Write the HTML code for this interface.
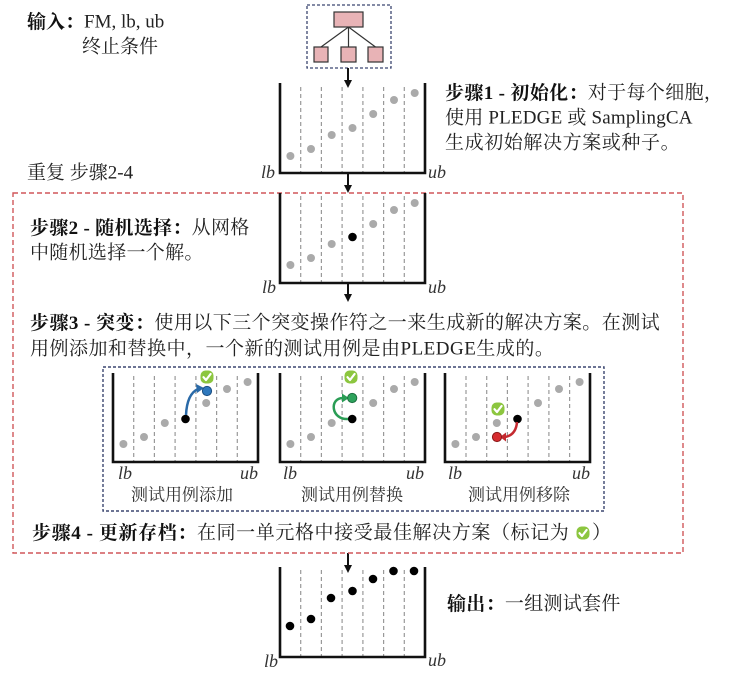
<!DOCTYPE html>
<html><head><meta charset="utf-8"><style>
html,body{margin:0;padding:0;background:#fff;}
svg{display:block;}
text{font-family:"Liberation Serif","Noto Serif CJK SC",serif;fill:#222;}
.t{font-size:19px;}
.b{font-weight:bold;fill:#111;}
.it{font-style:italic;font-size:18px;fill:#333;}
.lbl{font-size:17px;fill:#333;}
</style></head><body>
<svg width="738" height="674" viewBox="0 0 738 674" xmlns="http://www.w3.org/2000/svg">
<defs>
<g id="chk">
<rect x="-6.5" y="-6.5" width="13" height="13" rx="5" fill="#8cc63f"/>
<path d="M-3.5,0.2 L-1,3 L3.6,-3" fill="none" stroke="#fff" stroke-width="2.2" stroke-linecap="round" stroke-linejoin="round"/>
</g>
</defs>

<!-- top texts -->
<text class="t" x="27" y="22" dominant-baseline="central"><tspan class="b">输入：</tspan>FM, lb, ub</text>
<text class="t" x="82" y="47" dominant-baseline="central">终止条件</text>
<text class="t" x="27" y="173" dominant-baseline="central">重复 步骤2-4</text>

<!-- tree -->
<rect x="307" y="5" width="84" height="63" fill="none" stroke="#3b4670" stroke-width="1.3" stroke-dasharray="3,2"/>
<g stroke="#333" stroke-width="1.2">
<line x1="348.5" y1="27" x2="321" y2="47"/>
<line x1="348.5" y1="27" x2="348.5" y2="47"/>
<line x1="348.5" y1="27" x2="375.5" y2="47"/>
<rect x="334" y="12" width="29" height="15" fill="#e8b3b6"/>
<rect x="314" y="47" width="14" height="15" fill="#e8b3b6"/>
<rect x="341" y="47" width="15" height="15" fill="#e8b3b6"/>
<rect x="368" y="47" width="15" height="15" fill="#e8b3b6"/>
</g>

<!-- arrows -->
<g stroke="#111" stroke-width="2">
<line x1="348" y1="68" x2="348" y2="81"/>
<line x1="348" y1="173" x2="348" y2="186"/>
<line x1="348" y1="283" x2="348" y2="295"/>
<line x1="348" y1="553" x2="348" y2="566"/>
</g>
<g fill="#111">
<polygon points="344,80 352,80 348,88"/>
<polygon points="344,185 352,185 348,193"/>
<polygon points="344,294 352,294 348,302"/>
<polygon points="344,565 352,565 348,573"/>
</g>

<!-- box 1 -->
<g stroke="#999" stroke-width="1.2" stroke-dasharray="4,3">
<line x1="300.7" y1="87" x2="300.7" y2="173"/><line x1="321.4" y1="87" x2="321.4" y2="173"/>
<line x1="342.1" y1="87" x2="342.1" y2="173"/><line x1="362.9" y1="87" x2="362.9" y2="173"/>
<line x1="383.6" y1="87" x2="383.6" y2="173"/><line x1="404.3" y1="87" x2="404.3" y2="173"/>
</g>
<polyline points="280,83 280,173 425,173 425,83" fill="none" stroke="#111" stroke-width="2.6"/>
<g fill="#aaa">
<circle cx="290.4" cy="156" r="4"/><circle cx="311" cy="149" r="4"/><circle cx="331.7" cy="135" r="4"/>
<circle cx="352.5" cy="128" r="4"/><circle cx="373.2" cy="114" r="4"/><circle cx="394" cy="100" r="4"/><circle cx="414.7" cy="93" r="4"/>
</g>
<text class="it" x="261" y="172" dominant-baseline="central">lb</text>
<text class="it" x="428" y="172" dominant-baseline="central">ub</text>

<!-- step 1 text -->
<text class="t" x="445" y="93" dominant-baseline="central" letter-spacing="0.35"><tspan class="b">步骤1 - 初始化：</tspan>对于每个细胞，</text>
<text class="t" x="445" y="118" dominant-baseline="central" letter-spacing="0.2">使用 PLEDGE 或 SamplingCA</text>
<text class="t" x="445" y="143" dominant-baseline="central" letter-spacing="0.6">生成初始解决方案或种子。</text>

<!-- red box -->
<rect x="13" y="193" width="670" height="360" fill="none" stroke="#d0575a" stroke-width="1.4" stroke-dasharray="5,3"/>

<!-- box 2 -->
<g stroke="#999" stroke-width="1.2" stroke-dasharray="4,3">
<line x1="300.7" y1="196" x2="300.7" y2="283"/><line x1="321.4" y1="196" x2="321.4" y2="283"/>
<line x1="342.1" y1="196" x2="342.1" y2="283"/><line x1="362.9" y1="196" x2="362.9" y2="283"/>
<line x1="383.6" y1="196" x2="383.6" y2="283"/><line x1="404.3" y1="196" x2="404.3" y2="283"/>
</g>
<polyline points="280,193 280,283 425,283 425,193" fill="none" stroke="#111" stroke-width="2.6"/>
<g fill="#aaa">
<circle cx="290.4" cy="265" r="4"/><circle cx="311" cy="258" r="4"/><circle cx="331.7" cy="244" r="4"/>
<circle cx="373.2" cy="224" r="4"/><circle cx="394" cy="210" r="4"/><circle cx="414.7" cy="203" r="4"/>
</g>
<circle cx="352.5" cy="237" r="4.3" fill="#000"/>
<text class="it" x="262" y="287" dominant-baseline="central">lb</text>
<text class="it" x="428" y="287" dominant-baseline="central">ub</text>

<!-- step 2 -->
<text class="t" x="30" y="228" dominant-baseline="central" letter-spacing="0.3"><tspan class="b">步骤2 - 随机选择：</tspan>从网格</text>
<text class="t" x="30" y="253" dominant-baseline="central" letter-spacing="0.3">中随机选择一个解。</text>

<!-- step 3 -->
<text class="t" x="30" y="323" dominant-baseline="central" letter-spacing="0.45"><tspan class="b">步骤3 - 突变：</tspan>使用以下三个突变操作符之一来生成新的解决方案。在测试</text>
<text class="t" x="30" y="349" dominant-baseline="central" letter-spacing="0.5">用例添加和替换中，一个新的测试用例是由PLEDGE生成的。</text>

<!-- blue box -->
<rect x="103" y="367" width="501" height="144" fill="none" stroke="#3b4670" stroke-width="1.4" stroke-dasharray="3,2"/>

<!-- panels dashed lines -->
<g stroke="#999" stroke-width="1.2" stroke-dasharray="4,3">
<line x1="133.7" y1="376" x2="133.7" y2="462"/><line x1="154.4" y1="376" x2="154.4" y2="462"/>
<line x1="175.1" y1="376" x2="175.1" y2="462"/><line x1="195.9" y1="376" x2="195.9" y2="462"/>
<line x1="216.6" y1="376" x2="216.6" y2="462"/><line x1="237.3" y1="376" x2="237.3" y2="462"/>
<line x1="300.7" y1="376" x2="300.7" y2="462"/><line x1="321.4" y1="376" x2="321.4" y2="462"/>
<line x1="342.1" y1="376" x2="342.1" y2="462"/><line x1="362.9" y1="376" x2="362.9" y2="462"/>
<line x1="383.6" y1="376" x2="383.6" y2="462"/><line x1="404.3" y1="376" x2="404.3" y2="462"/>
<line x1="466" y1="376" x2="466" y2="462"/><line x1="486.7" y1="376" x2="486.7" y2="462"/>
<line x1="507.4" y1="376" x2="507.4" y2="462"/><line x1="528.1" y1="376" x2="528.1" y2="462"/>
<line x1="548.9" y1="376" x2="548.9" y2="462"/><line x1="569.6" y1="376" x2="569.6" y2="462"/>
</g>
<g fill="none" stroke="#111" stroke-width="2.6">
<polyline points="113,373 113,462 258,462 258,373"/>
<polyline points="280,373 280,462 425,462 425,373"/>
<polyline points="445,373 445,462 590,462 590,373"/>
</g>
<g fill="#aaa">
<circle cx="123.4" cy="444" r="4"/><circle cx="144" cy="437" r="4"/><circle cx="164.8" cy="423" r="4"/>
<circle cx="206.2" cy="403" r="4"/><circle cx="227" cy="389" r="4"/><circle cx="247.6" cy="382" r="4"/>
<circle cx="290.4" cy="444" r="4"/><circle cx="311" cy="437" r="4"/><circle cx="331.7" cy="423" r="4"/>
<circle cx="373.2" cy="403" r="4"/><circle cx="394" cy="389" r="4"/><circle cx="414.7" cy="382" r="4"/>
<circle cx="455.4" cy="444" r="4"/><circle cx="476" cy="437" r="4"/><circle cx="496.8" cy="423" r="4"/>
<circle cx="538" cy="403" r="4"/><circle cx="559" cy="389" r="4"/><circle cx="579.6" cy="382" r="4"/>
</g>
<g fill="#000">
<circle cx="185.5" cy="419" r="4.3"/><circle cx="352.2" cy="419" r="4.3"/><circle cx="517.5" cy="419" r="4.3"/>
</g>

<!-- blue add arrow -->
<path d="M186,415 Q187,394 198,389" fill="none" stroke="#2a6aa8" stroke-width="2.5"/>
<polygon points="196,384 204,388 197,393" fill="#2a6aa8"/>
<circle cx="207" cy="391" r="4.6" fill="#2e78bd" stroke="#1c4f82" stroke-width="1"/>
<!-- green replace arrow -->
<path d="M348,419 C331,420 329,398 343,398" fill="none" stroke="#2a9d55" stroke-width="2.5"/>
<polygon points="342,393.5 349,398 342,402.5" fill="#2a9d55"/>
<circle cx="352.2" cy="398" r="4.6" fill="#2ea35c" stroke="#1c7040" stroke-width="1"/>
<!-- red remove arrow -->
<path d="M517,422 Q516,435 505,437" fill="none" stroke="#c42a30" stroke-width="2.5"/>
<polygon points="506,432.5 500,437 506,441.5" fill="#c42a30"/>
<circle cx="497" cy="437" r="4.6" fill="#d62b2f" stroke="#8b1a1a" stroke-width="1"/>

<use href="#chk" x="207" y="377"/>
<use href="#chk" x="351" y="377"/>
<use href="#chk" x="498" y="409"/>

<text class="it" x="118" y="473" dominant-baseline="central">lb</text>
<text class="it" x="240" y="473" dominant-baseline="central">ub</text>
<text class="it" x="283" y="473" dominant-baseline="central">lb</text>
<text class="it" x="406" y="473" dominant-baseline="central">ub</text>
<text class="it" x="448" y="473" dominant-baseline="central">lb</text>
<text class="it" x="572" y="473" dominant-baseline="central">ub</text>

<text class="lbl" x="182" y="495" text-anchor="middle" dominant-baseline="central">测试用例添加</text>
<text class="lbl" x="352" y="495" text-anchor="middle" dominant-baseline="central">测试用例替换</text>
<text class="lbl" x="519" y="495" text-anchor="middle" dominant-baseline="central">测试用例移除</text>

<!-- step 4 -->
<text class="t" x="32" y="533" dominant-baseline="central" letter-spacing="0.6"><tspan class="b">步骤4 - 更新存档：</tspan>在同一单元格中接受最佳解决方案（标记为</text>
<use href="#chk" x="583" y="533"/>
<text class="t" x="592" y="533" dominant-baseline="central">）</text>

<!-- bottom box -->
<g stroke="#999" stroke-width="1.2" stroke-dasharray="4,3">
<line x1="300.7" y1="570" x2="300.7" y2="657"/><line x1="321.4" y1="570" x2="321.4" y2="657"/>
<line x1="342.1" y1="570" x2="342.1" y2="657"/><line x1="362.9" y1="570" x2="362.9" y2="657"/>
<line x1="383.6" y1="570" x2="383.6" y2="657"/><line x1="404.3" y1="570" x2="404.3" y2="657"/>
</g>
<polyline points="280,567 280,657 425,657 425,567" fill="none" stroke="#111" stroke-width="2.6"/>
<g fill="#000">
<circle cx="290" cy="626" r="4.3"/><circle cx="311" cy="619" r="4.3"/><circle cx="331" cy="598" r="4.3"/>
<circle cx="352.5" cy="591" r="4.3"/><circle cx="373" cy="579" r="4.3"/><circle cx="393.5" cy="571" r="4.3"/><circle cx="414" cy="571" r="4.3"/>
</g>
<text class="it" x="264" y="661" dominant-baseline="central">lb</text>
<text class="it" x="428" y="660" dominant-baseline="central">ub</text>

<text class="t" x="447" y="604" dominant-baseline="central" letter-spacing="0.3"><tspan class="b">输出：</tspan>一组测试套件</text>
</svg>
</body></html>
